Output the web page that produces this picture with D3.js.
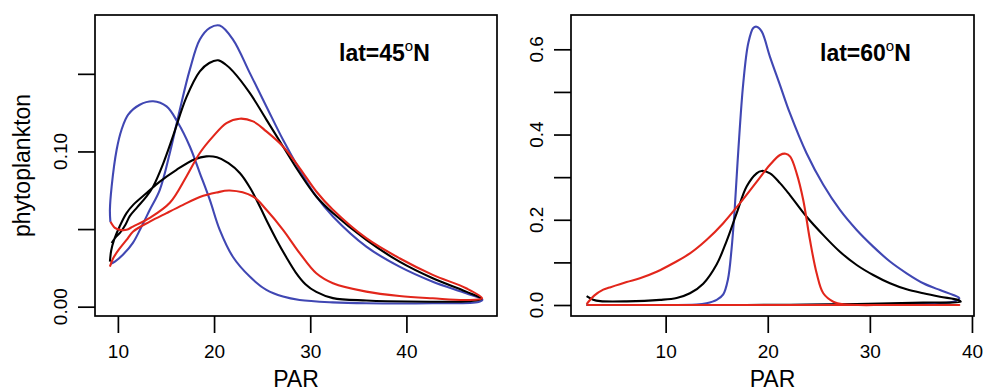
<!DOCTYPE html>
<html>
<head>
<meta charset="utf-8">
<script src="https://cdn.jsdelivr.net/npm/d3@7"></script>
<style>
  body { margin: 0; background: #fff; }
  svg { display: block; }
  text { font-family: "Liberation Sans", Arial, Helvetica, sans-serif; }
</style>
</head>
<body>
<svg id="chart" width="993" height="391"></svg>
<script>
// --- data (PAR, phytoplankton), in time order ---
// lat 45N
const blue45Par = [9.22, 9.17, 9.35, 9.87, 10.38, 11.07, 12.28, 13.67, 15.06, 16.26, 17.48, 18.52, 19.56, 20.59, 21.97, 23.71, 25.44, 27.17, 28.9, 32.33, 35.83, 42.71, 47.5, 47.9, 46.21, 42.74, 39.28, 35.83, 32.36, 30.63, 28.9, 27.17, 25.44, 23.71, 21.97, 20.59, 19.56, 18.52, 17.48, 16.44, 15.4, 14.36, 13.32, 12.46, 11.56, 10.52, 9.69, 9.22];
const blue45Phy = [0.0546, 0.0624, 0.0774, 0.1011, 0.114, 0.1237, 0.1301, 0.1323, 0.129, 0.1183, 0.1032, 0.0861, 0.0688, 0.0495, 0.032, 0.0194, 0.0108, 0.0065, 0.0043, 0.0028, 0.0022, 0.0022, 0.0030, 0.0045, 0.0086, 0.0161, 0.0258, 0.0387, 0.0581, 0.071, 0.0882, 0.1075, 0.129, 0.1506, 0.1721, 0.1811, 0.1796, 0.1721, 0.1527, 0.1269, 0.099, 0.0753, 0.0624, 0.0516, 0.0411, 0.0334, 0.029, 0.0275];

const black45Par = [9.35, 9.8, 10.21, 10.8, 11.25, 12.0, 12.98, 13.67, 14.7, 15.74, 17.13, 18.52, 19.5, 20.42, 21.2, 21.97, 23.71, 25.44, 27.17, 28.9, 30.63, 32.36, 35.83, 39.28, 42.74, 46.21, 47.8, 46.5, 42.71, 38.0, 35.83, 32.36, 30.63, 29.5, 28.5, 27.5, 26.5, 25.5, 24.8, 23.8, 22.7, 21.5, 20.3, 19.2, 18.0, 16.1, 14.36, 12.98, 11.59, 10.9, 10.2, 9.6, 9.3, 9.17];
const black45Phy = [0.041, 0.045, 0.0475, 0.053, 0.0585, 0.064, 0.071, 0.0774, 0.092, 0.110, 0.135, 0.1516, 0.157, 0.1587, 0.156, 0.1516, 0.1377, 0.1205, 0.1032, 0.0861, 0.071, 0.0603, 0.043, 0.029, 0.0183, 0.0097, 0.005, 0.0035, 0.0032, 0.0035, 0.0040, 0.0055, 0.0095, 0.0145, 0.022, 0.032, 0.043, 0.055, 0.064, 0.076, 0.086, 0.0925, 0.0962, 0.0968, 0.095, 0.0882, 0.0806, 0.0732, 0.0656, 0.0603, 0.052, 0.043, 0.036, 0.029];

const red45Par = [9.23, 9.69, 10.21, 10.9, 11.56, 13.32, 15.4, 17.13, 18.52, 19.9, 21.29, 22.67, 24.05, 25.44, 27.17, 28.9, 30.63, 32.36, 35.83, 39.28, 42.74, 46.21, 47.87, 46.21, 42.74, 39.28, 35.83, 32.36, 30.63, 28.9, 27.17, 25.44, 24.05, 21.63, 20.25, 18.52, 16.78, 15.06, 13.32, 11.59, 10.9, 10.21, 9.51, 9.17];
const red45Phy = [0.0547, 0.0508, 0.0495, 0.0495, 0.0516, 0.0572, 0.0669, 0.0839, 0.099, 0.1097, 0.1183, 0.1211, 0.1194, 0.1129, 0.1032, 0.0893, 0.0742, 0.0624, 0.0441, 0.0312, 0.0205, 0.0119, 0.0054, 0.0043, 0.0054, 0.0069, 0.0097, 0.0151, 0.0215, 0.0345, 0.0495, 0.0624, 0.071, 0.0748, 0.0735, 0.0706, 0.0656, 0.0603, 0.0548, 0.0484, 0.043, 0.0377, 0.0312, 0.0258];

// lat 60N
const blue60Par = [2.26, 8.0, 13.0, 14.0, 15.0, 15.64, 16.1, 16.45, 16.75, 17.11, 17.6, 18.09, 18.58, 18.91, 19.4, 20.21, 21.2, 22.17, 23.8, 25.44, 27.07, 28.71, 30.33, 31.97, 33.6, 35.23, 36.87, 38.17, 38.76, 38.17, 35.23, 28.71, 22.17, 10.0, 2.26];
const blue60Phy = [0, 0, 0.001, 0.004, 0.012, 0.025, 0.06, 0.13, 0.22, 0.36, 0.52, 0.614, 0.65, 0.653, 0.642, 0.583, 0.516, 0.45, 0.356, 0.282, 0.223, 0.176, 0.137, 0.102, 0.0744, 0.051, 0.035, 0.0235, 0.0157, 0.0077, 0.004, 0.0016, 0.0, 0, 0];

const black60Par = [2.26, 2.9, 3.6, 6.18, 9.44, 11.08, 12.38, 13.68, 14.99, 15.97, 16.95, 17.93, 18.91, 19.4, 20.22, 21.2, 22.17, 23.81, 25.44, 27.07, 28.71, 30.33, 31.97, 33.6, 35.23, 36.87, 38.66, 38.9, 35.23, 28.71, 22.17, 15.0, 8.0, 2.26];
const black60Phy = [0.021, 0.0125, 0.009, 0.0085, 0.012, 0.0165, 0.0275, 0.05, 0.095, 0.15, 0.215, 0.278, 0.309, 0.3146, 0.309, 0.286, 0.258, 0.207, 0.164, 0.125, 0.0939, 0.0704, 0.051, 0.0368, 0.0275, 0.0195, 0.0117, 0.008, 0.0055, 0.0025, 0.0007, 0.0, 0.0, 0.0];

const red60Par = [2.26, 3.0, 3.89, 4.5, 6.18, 7.48, 9.12, 10.74, 12.38, 14.02, 15.64, 17.28, 18.91, 20.22, 21.2, 21.75, 22.2, 22.83, 23.48, 24.13, 24.79, 25.44, 26.42, 27.4, 31.97, 38.76, 30.0, 20.0, 10.0, 2.26];
const red60Phy = [0.002, 0.022, 0.036, 0.041, 0.054, 0.0627, 0.078, 0.0979, 0.121, 0.153, 0.192, 0.239, 0.289, 0.329, 0.352, 0.355, 0.348, 0.309, 0.246, 0.153, 0.0744, 0.0275, 0.0077, 0.0016, 0.0, 0.0, 0, 0, 0, 0];

const xTickValues = [10, 20, 30, 40];
const yTicks45 = [0, 0.05, 0.10, 0.15];
const yLabels45 = [0, 0.10];
const yTicks60 = [0, 0.1, 0.2, 0.3, 0.4, 0.5, 0.6];
const yLabels60 = [0, 0.2, 0.4, 0.6];

const COLORS = { blue: '#4047b3', black: '#000000', red: '#e2261b' };

const zip = (xs, ys) => xs.map((x, i) => [x, ys[i]]);

const panels = [
  {
    lat: '45', left: 95, right: 497, xDomain: [7.62, 49.42], yDomain: [-0.006, 0.1879],
    yTicks: yTicks45, yLabels: yLabels45, yFormat: d3.format('.2f'), labelX: 66.7, titleX: 339,
    curves: [
      { color: COLORS.blue, pts: zip(blue45Par, blue45Phy) },
      { color: COLORS.black, pts: zip(black45Par, black45Phy) },
      { color: COLORS.red, pts: zip(red45Par, red45Phy) }
    ]
  },
  {
    lat: '60', left: 571, right: 974, xDomain: [0.73, 40.2], yDomain: [-0.0258, 0.6805],
    yTicks: yTicks60, yLabels: yLabels60, yFormat: d3.format('.1f'), labelX: 543.3, titleX: 820,
    curves: [
      { color: COLORS.blue, pts: zip(blue60Par, blue60Phy) },
      { color: COLORS.black, pts: zip(black60Par, black60Phy) },
      { color: COLORS.red, pts: zip(red60Par, red60Phy) }
    ]
  }
];

const plotTop = 15, plotBottom = 316, tickLen = 17;
const svg = d3.select('#chart');

panels.forEach(p => {
  const x = d3.scaleLinear().domain(p.xDomain).range([p.left, p.right]);
  const y = d3.scaleLinear().domain(p.yDomain).range([plotBottom, plotTop]);
  const g = svg.append('g');

  // clip curves to plot box
  const clipId = 'clip' + p.lat;
  svg.append('clipPath').attr('id', clipId)
    .append('rect').attr('x', p.left).attr('y', plotTop)
    .attr('width', p.right - p.left).attr('height', plotBottom - plotTop);

  const line = d3.line()
    .x(d => x(d[0]))
    .y(d => y(d[1]))
    .curve(d3.curveCatmullRom.alpha(0.5));

  g.append('g').attr('clip-path', `url(#${clipId})`)
    .selectAll('path')
    .data(p.curves)
    .join('path')
    .attr('d', d => line(d.pts))
    .attr('fill', 'none')
    .attr('stroke', d => d.color)
    .attr('stroke-width', 2.1)
    .attr('stroke-linejoin', 'round');

  // box
  g.append('rect')
    .attr('x', p.left).attr('y', plotTop)
    .attr('width', p.right - p.left).attr('height', plotBottom - plotTop)
    .attr('fill', 'none').attr('stroke', '#000').attr('stroke-width', 1.7);

  // x axis
  const xAxis = g.append('g')
    .attr('transform', `translate(0,${plotBottom})`)
    .call(d3.axisBottom(x).tickValues(xTickValues).tickSize(tickLen).tickPadding(11.5).tickFormat(d3.format('d')));
  xAxis.select('.domain').remove();
  xAxis.selectAll('line').attr('stroke-width', 1.7);
  xAxis.selectAll('text').attr('font-size', 19).attr('fill', '#000')
    .style('font-family', '"Liberation Sans", Arial, sans-serif');

  // y axis ticks
  const yAxis = g.append('g')
    .attr('transform', `translate(${p.left},0)`)
    .call(d3.axisLeft(y).tickValues(p.yTicks).tickSize(tickLen).tickFormat(''));
  yAxis.select('.domain').remove();
  yAxis.selectAll('line').attr('stroke-width', 1.7);

  // rotated y tick labels
  g.selectAll('text.ylab')
    .data(p.yLabels)
    .join('text')
    .attr('class', 'ylab')
    .attr('transform', d => `translate(${p.labelX},${y(d)}) rotate(-90)`)
    .attr('text-anchor', 'middle')
    .attr('font-size', 19)
    .text(d => p.yFormat(d));

  // x title
  g.append('text')
    .attr('x', (p.left + p.right) / 2).attr('y', 387)
    .attr('text-anchor', 'middle')
    .attr('font-size', 23)
    .text('PAR');

  // latitude label
  const t = g.append('text')
    .attr('x', p.titleX).attr('y', 61)
    .attr('font-size', 23).attr('font-weight', 'bold');
  t.append('tspan').text(`lat=${p.lat}`);
  t.append('tspan').attr('font-size', 15).attr('font-weight', 'normal').attr('dy', -10).text('o');
  t.append('tspan').attr('dy', 10).text('N');
});

// y title (left panel only)
svg.append('text')
  .attr('transform', `translate(30,${(plotTop + plotBottom) / 2}) rotate(-90)`)
  .attr('text-anchor', 'middle')
  .attr('font-size', 23)
  .text('phytoplankton');
</script>
</body>
</html>
